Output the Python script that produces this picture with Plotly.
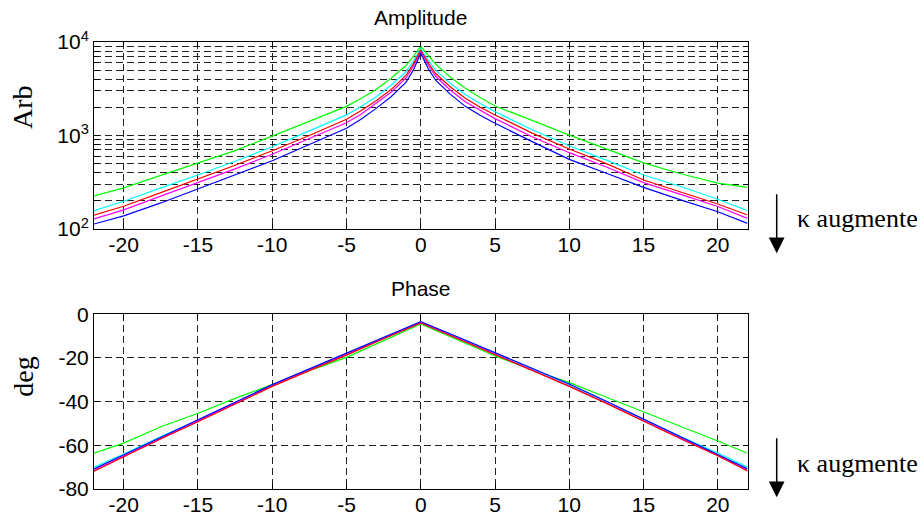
import plotly.graph_objects as go

# ---------------- data ----------------
x_amp = [-22, -20, -17.5, -15, -12.5, -10, -7.5, -5, -4, -3, -2, -1, -0.5, 0,
         0.5, 1, 2, 3, 4, 5, 7.5, 10, 12.5, 15, 17.5, 20, 22]
amp_green = [226, 275, 375, 505, 690, 985, 1420, 2050, 2500, 3100, 4100, 5600, 7000, 9000,
             7200, 5800, 4200, 3200, 2550, 2070, 1450, 1010, 720, 510, 390, 310, 279]
amp_cyan = [157, 198, 275, 378, 530, 759, 1120, 1660, 2050, 2600, 3450, 4800, 6200, 8500,
            6400, 5000, 3600, 2750, 2200, 1800, 1150, 776, 545, 378, 285, 208, 157]
amp_red = [141, 175, 245, 343, 480, 687, 1000, 1490, 1850, 2350, 3100, 4400, 5800, 8200,
           6000, 4600, 3300, 2500, 2000, 1660, 1060, 718, 500, 334, 250, 185, 141]
amp_magenta = [128, 160, 225, 313, 440, 631, 930, 1370, 1700, 2200, 2900, 4100, 5500, 7900,
               5700, 4300, 3050, 2300, 1850, 1515, 970, 655, 460, 313, 235, 174, 130]
amp_blue = [113, 138, 190, 268, 380, 537, 800, 1195, 1500, 1950, 2600, 3700, 5000, 7600,
            5200, 3900, 2750, 2050, 1650, 1350, 860, 556, 395, 279, 205, 153, 115]

x_phase = [-22, -20, -17.5, -15, -12.5, -10, -7.5, -5, -2.5, 0,
           2.5, 5, 7.5, 10, 12.5, 15, 17.5, 20, 22]
ph_green = [-63.6, -59.0, -51.5, -45.3, -38.5, -32.0, -25.8, -19.7, -12.0, -4.4,
            -11.8, -19.1, -25.5, -31.3, -38.0, -44.6, -51.5, -58.0, -63.6]
ph_cyan = [-70.0, -64.0, -56.0, -48.5, -40.5, -32.5, -25.3, -18.2, -10.8, -3.8,
           -10.8, -18.0, -25.2, -32.3, -40.0, -48.2, -56.0, -63.5, -70.0]
ph_red = [-71.8, -65.2, -57.0, -49.2, -41.0, -33.0, -25.8, -18.7, -11.2, -4.0,
          -11.2, -18.5, -25.8, -33.0, -40.8, -49.0, -57.0, -64.8, -71.8]
ph_magenta = [-71.5, -65.0, -56.8, -49.0, -40.8, -32.8, -25.6, -18.5, -11.0, -3.8,
              -11.0, -18.3, -25.6, -32.8, -40.6, -48.8, -56.8, -64.6, -71.5]
ph_blue = [-70.8, -64.4, -56.3, -48.2, -40.2, -32.2, -25.0, -17.9, -10.6, -3.4,
           -10.4, -17.6, -24.8, -31.9, -39.8, -47.9, -56.0, -64.1, -70.8]

x_tick_vals = [-20, -15, -10, -5, 0, 5, 10, 15, 20]
x_tick_text = ["-20", "-15", "-10", "-5", "0", "5", "10", "15", "20"]
amp_tick_vals = [100, 200, 300, 400, 500, 600, 700, 800, 900,
                 1000, 2000, 3000, 4000, 5000, 6000, 7000, 8000, 9000, 10000]
amp_tick_text = ["10<sup>2</sup>", "", "", "", "", "", "", "", "",
                 "10<sup>3</sup>", "", "", "", "", "", "", "", "", "10<sup>4</sup>"]
phase_tick_vals = [-80, -60, -40, -20, 0]
phase_tick_text = ["-80", "-60", "-40", "-20", "0"]

# ---------------- figure ----------------
W, H = 924, 515


def fx(p):
    return p / W


def fy(p):
    return 1 - p / H


amp_series = [(amp_green, "#00ff00"), (amp_cyan, "#00ffff"), (amp_magenta, "#ff00ff"),
              (amp_blue, "#0000ff"), (amp_red, "#ff0000")]
ph_series = [(ph_green, "#00ff00"), (ph_cyan, "#00ffff"), (ph_magenta, "#ff00ff"),
             (ph_blue, "#0000ff"), (ph_red, "#ff0000")]

fig = go.Figure()
for ys, col in amp_series:
    fig.add_trace(go.Scatter(x=x_amp, y=ys, mode="lines", line=dict(color=col, width=1.2),
                             xaxis="x", yaxis="y", showlegend=False, hoverinfo="skip"))
for ys, col in ph_series:
    fig.add_trace(go.Scatter(x=x_phase, y=ys, mode="lines", line=dict(color=col, width=1.2),
                             xaxis="x2", yaxis="y2", showlegend=False, hoverinfo="skip"))

sans = "Liberation Sans, Arial, sans-serif"
tickfont = dict(family=sans, size=21, color="black")
common = dict(showline=True, linecolor="black", linewidth=1, mirror="allticks",
              ticks="inside", ticklen=5, tickcolor="black", tickwidth=1,
              showgrid=True, gridcolor="#222222", gridwidth=1, griddash="7px,4px",
              zeroline=False, tickfont=tickfont, fixedrange=True, automargin=False)

xdom = [fx(94), fx(747.5)]
fig.update_layout(
    width=W, height=H, margin=dict(l=0, r=0, t=0, b=0, pad=0, autoexpand=False),
    paper_bgcolor="white", plot_bgcolor="white", showlegend=False,
    xaxis=dict(domain=xdom, range=[-22, 22], tickvals=x_tick_vals, ticktext=x_tick_text,
               anchor="y", ticklabelstandoff=-3, **common),
    yaxis=dict(domain=[fy(229), fy(42)], type="log", range=[2, 4], tickvals=amp_tick_vals,
               ticktext=amp_tick_text, anchor="x", ticklabelstandoff=0, **common),
    xaxis2=dict(domain=xdom, range=[-22, 22], tickvals=x_tick_vals, ticktext=x_tick_text,
                anchor="y2", ticklabelstandoff=-3, **common),
    yaxis2=dict(domain=[fy(489), fy(314.3)], range=[-80, 0], tickvals=phase_tick_vals,
                ticktext=phase_tick_text, anchor="x2", ticklabelstandoff=0, **common),
)

serif = "Liberation Serif, Times New Roman, serif"
ann = []
ann.append(dict(text="Amplitude", x=fx(420.75), y=fy(17), xref="paper", yref="paper",
                xanchor="center", yanchor="middle", showarrow=False,
                font=dict(family=sans, size=21, color="black")))
ann.append(dict(text="Phase", x=fx(420.75), y=fy(288), xref="paper", yref="paper",
                xanchor="center", yanchor="middle", showarrow=False,
                font=dict(family=sans, size=21, color="black")))
ann.append(dict(text="Arb", x=fx(22.5), y=fy(107.5), xref="paper", yref="paper",
                xanchor="center", yanchor="middle", showarrow=False, textangle=-90,
                font=dict(family=serif, size=28, color="black")))
ann.append(dict(text="deg", x=fx(24), y=fy(376.7), xref="paper", yref="paper",
                xanchor="center", yanchor="middle", showarrow=False, textangle=-90,
                font=dict(family=serif, size=28, color="black")))
for tail, tip, txt_y in [(192.7, 253.3, 219), (436.7, 497.3, 463)]:
    ann.append(dict(text="", x=fx(776.7), y=fy(tip), xref="paper", yref="paper",
                    ax=0, ay=-(tip - tail), showarrow=True, arrowhead=2, arrowsize=2.1,
                    arrowwidth=1.5, arrowcolor="black", standoff=0))
    ann.append(dict(text="\u03ba augmente", x=fx(795), y=fy(txt_y), xref="paper", yref="paper",
                    xanchor="left", yanchor="middle", showarrow=False,
                    font=dict(family=serif, size=26, color="black")))
fig.update_layout(annotations=ann)

fig.write_html("out.html")
